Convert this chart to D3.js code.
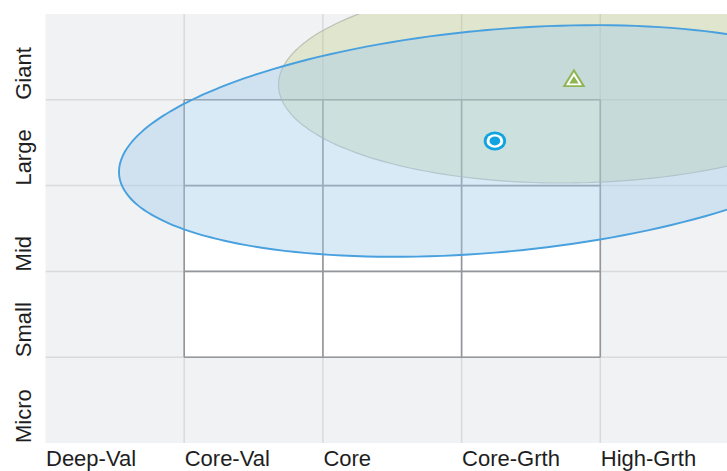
<!DOCTYPE html>
<html>
<head>
<meta charset="utf-8">
<script src="https://cdn.jsdelivr.net/npm/d3@7"></script>
<style>
  html, body { margin: 0; padding: 0; background: #ffffff; }
  svg { display: block; }
  text { font-family: "Liberation Sans", Arial, sans-serif; }
</style>
</head>
<body>
<svg id="chart" width="727" height="471"></svg>
<script>
// ---- data ----
const styleLabels = ["Deep-Val", "Core-Val", "Core", "Core-Grth", "High-Grth"];
const styleTicks = [-100, 0, 100, 200, 300];
const sizeLabels = ["Micro", "Small", "Mid", "Large", "Giant"];
const sizeTicks = [-100, 0, 100, 200, 300];
const boxTicks = [0, 100, 200, 300];

const zoneNames = ["Benchmark", "Fund"];
const zoneCenterX = [281, 224];
const zoneCenterY = [322, 252];
const zoneSpreadX = [213, 271];
const zoneSpreadY = [119, 135];
const zoneCorr = [0.039, 0.267];

// ---- layout ----
const W = 727, H = 471;
const svg = d3.select("#chart");
const x = d3.scaleLinear().domain([-100, 400]).range([45.5, 739]);
const y = d3.scaleLinear().domain([-100, 400]).range([443, 14]);
const plotRight = W;

svg.append("defs").append("clipPath").attr("id", "plotclip")
  .append("rect").attr("x", x(-100)).attr("y", y(400))
  .attr("width", plotRight - x(-100)).attr("height", y(-100) - y(400));

// background
svg.append("rect").attr("x", x(-100)).attr("y", y(400))
  .attr("width", plotRight - x(-100)).attr("height", y(-100) - y(400))
  .attr("fill", "#f1f2f4");

// white 3x3 box
svg.append("rect").attr("x", x(0)).attr("y", y(300))
  .attr("width", x(300) - x(0)).attr("height", y(0) - y(300))
  .attr("fill", "#ffffff");

// light grid lines
const grid = svg.append("g").attr("clip-path", "url(#plotclip)");
grid.selectAll("line.v").data(boxTicks).join("line")
  .attr("x1", d => x(d)).attr("x2", d => x(d))
  .attr("y1", y(400)).attr("y2", y(-100))
  .attr("stroke", "#d9dadc").attr("stroke-width", 1.5);
grid.selectAll("line.h").data(boxTicks).join("line")
  .attr("x1", x(-100)).attr("x2", plotRight)
  .attr("y1", d => y(d)).attr("y2", d => y(d))
  .attr("stroke", "#d9dadc").attr("stroke-width", 1.5);

// dark box lines
const box = svg.append("g");
box.selectAll("line.bv").data(boxTicks).join("line")
  .attr("x1", d => x(d)).attr("x2", d => x(d))
  .attr("y1", y(300)).attr("y2", y(0))
  .attr("stroke", "#93979b").attr("stroke-width", 1.6);
box.selectAll("line.bh").data(boxTicks).join("line")
  .attr("x1", x(0)).attr("x2", x(300))
  .attr("y1", d => y(d)).attr("y2", d => y(d))
  .attr("stroke", "#93979b").attr("stroke-width", 1.6);

// ownership zones
function zonePath(i) {
  const pts = d3.range(0, 361, 2).map(deg => {
    const t = deg * Math.PI / 180;
    const r = zoneCorr[i];
    return [x(zoneCenterX[i] + zoneSpreadX[i] * Math.cos(t)),
            y(zoneCenterY[i] + zoneSpreadY[i] * (r * Math.cos(t) + Math.sqrt(1 - r * r) * Math.sin(t)))];
  });
  return d3.line().curve(d3.curveCardinalClosed)(pts.slice(0, -1));
}
const zones = svg.append("g").attr("clip-path", "url(#plotclip)");
const zoneFill = ["rgba(186,198,118,0.30)", "rgba(160,203,236,0.40)"];
const zoneStroke = ["rgba(170,175,165,0.7)", "#48a1de"];
const zoneWidth = [1.2, 1.9];
zoneNames.forEach((n, i) => {
  zones.append("path").attr("d", zonePath(i))
    .attr("fill", zoneFill[i]).attr("stroke", zoneStroke[i]).attr("stroke-width", zoneWidth[i]);
});

// markers
const bx = x(zoneCenterX[0]), by = y(zoneCenterY[0]);
const tri = svg.append("g").attr("transform", `translate(${bx},${by}) scale(1.06,0.98)`);
tri.append("path").attr("d", d3.symbol(d3.symbolTriangle, 205)()).attr("fill", "#8db552");
tri.append("path").attr("d", d3.symbol(d3.symbolTriangle, 100)()).attr("fill", "#ffffff");
tri.append("path").attr("d", d3.symbol(d3.symbolTriangle, 34)()).attr("fill", "#8db552");

const fx = x(zoneCenterX[1]), fy = y(zoneCenterY[1]);
const dot = svg.append("g").attr("transform", `translate(${fx},${fy})`);
dot.append("ellipse").attr("rx", 11.2).attr("ry", 9.4).attr("fill", "#0fa3e0");
dot.append("ellipse").attr("rx", 8.4).attr("ry", 6.8).attr("fill", "#ffffff");
dot.append("ellipse").attr("rx", 5.4).attr("ry", 4.4).attr("fill", "#0fa3e0");

// axis labels
svg.selectAll("text.xl").data(styleLabels).join("text")
  .attr("x", (d, i) => x(styleTicks[i]) + 0.5).attr("y", 466)
  .attr("font-size", 22).attr("fill", "#1e1e1e").text(d => d);

svg.selectAll("text.yl").data(sizeLabels).join("text")
  .attr("transform", (d, i) => `translate(31,${y(sizeTicks[i])}) rotate(-90)`)
  .attr("font-size", 22).attr("fill", "#1e1e1e").text(d => d);
</script>
</body>
</html>
